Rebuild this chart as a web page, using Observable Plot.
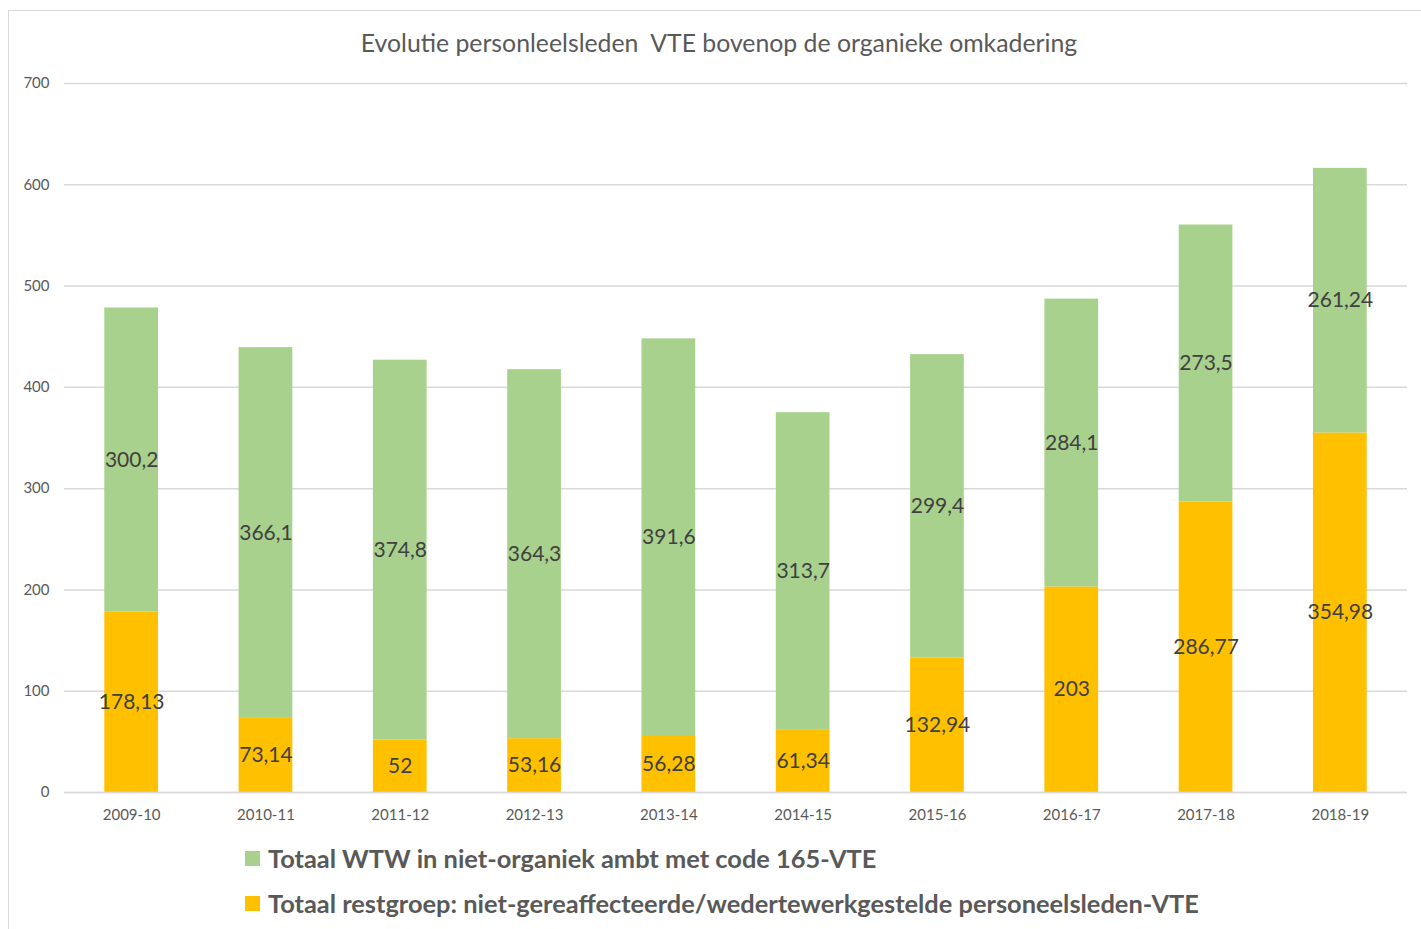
<!DOCTYPE html>
<html>
<head>
<meta charset="utf-8">
<script src="https://cdn.jsdelivr.net/npm/d3@7"></script>
<script src="https://cdn.jsdelivr.net/npm/@observablehq/plot@0.6"></script>
<style>
  html, body { margin: 0; padding: 0; background: #fff; width: 1421px; height: 929px; overflow: hidden; }
  body { position: relative; font-family: Lato, "Open Sans", sans-serif; }
  #frame { position: absolute; left: 8px; top: 10px; width: 1420px; height: 940px; border: 1.5px solid #d9d9d9; box-sizing: border-box; }
  #title { position: absolute; left: 0; width: 1438px; top: 28px; text-align: center; font-size: 24.8px; color: #595959; white-space: pre; }
  #chart { position: absolute; left: 0; top: 60px; }
  .leg { position: absolute; left: 245px; font-size: 25.4px; font-weight: bold; color: #595959; display: flex; align-items: center; white-space: pre; }
  .leg .sw { width: 15px; height: 15px; margin-right: 8px; }
</style>
</head>
<body>
<div id="frame"></div>
<div id="title">Evolutie personleelsleden  VTE bovenop de organieke omkadering</div>
<div id="chart"></div>
<div id="legend"></div>
<script>
const years = ["2009-10","2010-11","2011-12","2012-13","2013-14","2014-15","2015-16","2016-17","2017-18","2018-19"];
const restValues = [178.13, 73.14, 52, 53.16, 56.28, 61.34, 132.94, 203, 286.77, 354.98];
const wtwValues = [300.2, 366.1, 374.8, 364.3, 391.6, 313.7, 299.4, 284.1, 273.5, 261.24];
const seriesNames = [
  "Totaal WTW in niet-organiek ambt met code 165-VTE",
  "Totaal restgroep: niet-gereaffecteerde/wedertewerkgestelde personeelsleden-VTE"
];
const seriesColors = ["#A9D18E", "#FFC000"];
const yTicks = [0, 100, 200, 300, 400, 500, 600, 700];

const rows = [];
years.forEach((y, i) => {
  rows.push({year: y, series: seriesNames[1], value: restValues[i]});
  rows.push({year: y, series: seriesNames[0], value: wtwValues[i]});
});
const fmt = v => String(v).replace(".", ",");
const order = [seriesNames[1], seriesNames[0]];

const plot = Plot.plot({
  width: 1421,
  height: 780,
  marginTop: 23,
  marginBottom: 48,
  marginLeft: 64,
  marginRight: 14,
  style: {fontFamily: "Lato, 'Open Sans', sans-serif", fontSize: "15px", color: "#595959", background: "transparent"},
  x: {domain: years, paddingInner: 0.6, paddingOuter: 0.3, round: false, label: null, tickSize: 0, tickPadding: 17},
  y: {domain: [0, 700], ticks: yTicks, label: null, tickSize: 0, tickPadding: 15},
  color: {domain: seriesNames, range: seriesColors},
  marks: [
    Plot.gridY(yTicks, {stroke: "#d9d9d9", strokeOpacity: 1, strokeWidth: 1.5}),
    Plot.barY(rows, {x: "year", y: "value", fill: "series", order}),
    Plot.text(rows, Plot.stackY({x: "year", y: "value", z: "series", order, text: d => fmt(d.value), fill: "#404040", fontSize: 21})),
    Plot.ruleY([0], {stroke: "#d9d9d9", strokeWidth: 1.5})
  ]
});
document.getElementById("chart").appendChild(plot);

const legend = document.getElementById("legend");
seriesNames.forEach((name, i) => {
  const d = document.createElement("div");
  d.className = "leg";
  d.style.top = (i === 0 ? 843 : 888) + "px";
  d.innerHTML = `<span class="sw" style="background:${seriesColors[i]}"></span><span>${name}</span>`;
  legend.appendChild(d);
});
</script>
</body>
</html>
